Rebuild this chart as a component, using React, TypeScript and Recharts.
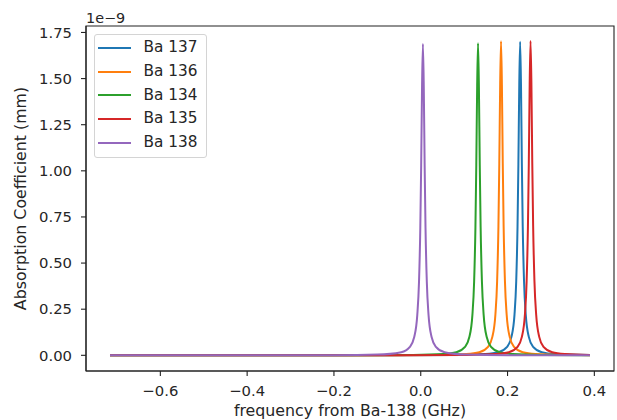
import { Legend, Line, LineChart, ReferenceArea, XAxis, YAxis } from "recharts";

const FONT = '"DejaVu Sans", sans-serif';
const INK = "#262626";

// absorption values are in units of 1e-9 mm (the axis offset text)
const freq137 = [-0.716, -0.071, 0.079, 0.149, 0.179, 0.199, 0.209, 0.216, 0.22, 0.223, 0.225, 0.227, 0.229, 0.231, 0.233, 0.235, 0.238, 0.242, 0.249, 0.259, 0.279, 0.309, 0.39];
const abs137 = [0.0001, 0.0005, 0.002, 0.007, 0.017, 0.046, 0.1, 0.219, 0.401, 0.697, 1.037, 1.465, 1.7, 1.465, 1.037, 0.697, 0.401, 0.219, 0.1, 0.046, 0.017, 0.007, 0.002];

const freq136 = [-0.716, -0.115, 0.035, 0.105, 0.135, 0.155, 0.165, 0.172, 0.176, 0.179, 0.181, 0.183, 0.185, 0.187, 0.189, 0.191, 0.194, 0.198, 0.205, 0.215, 0.235, 0.265, 0.335, 0.39];
const abs136 = [0.0001, 0.0005, 0.002, 0.007, 0.017, 0.046, 0.1, 0.22, 0.402, 0.698, 1.038, 1.467, 1.702, 1.467, 1.038, 0.698, 0.402, 0.22, 0.1, 0.046, 0.017, 0.007, 0.002, 0.001];

const freq134 = [-0.716, -0.168, -0.018, 0.052, 0.082, 0.102, 0.112, 0.119, 0.123, 0.126, 0.128, 0.13, 0.132, 0.134, 0.136, 0.138, 0.141, 0.145, 0.152, 0.162, 0.182, 0.212, 0.282, 0.39];
const abs134 = [0.0001, 0.0005, 0.002, 0.007, 0.017, 0.046, 0.099, 0.218, 0.399, 0.693, 1.032, 1.458, 1.691, 1.458, 1.032, 0.693, 0.399, 0.218, 0.099, 0.046, 0.017, 0.007, 0.002, 0.0006];

const freq135 = [-0.716, -0.047, 0.103, 0.173, 0.203, 0.223, 0.233, 0.24, 0.244, 0.247, 0.249, 0.251, 0.253, 0.255, 0.257, 0.259, 0.262, 0.266, 0.273, 0.283, 0.303, 0.333, 0.39];
const abs135 = [0.0001, 0.0005, 0.002, 0.007, 0.017, 0.046, 0.1, 0.22, 0.402, 0.699, 1.039, 1.469, 1.704, 1.469, 1.039, 0.699, 0.402, 0.22, 0.1, 0.046, 0.017, 0.007, 0.002];

const freq138 = [-0.716, -0.4, -0.2, -0.1, -0.045, -0.025, -0.015, -0.008, -0.004, -0.001, 0.001, 0.003, 0.005, 0.007, 0.009, 0.011, 0.014, 0.018, 0.025, 0.035, 0.055, 0.105, 0.2, 0.39];
const abs138 = [0.0001, 0.0003, 0.001, 0.004, 0.017, 0.046, 0.099, 0.218, 0.398, 0.692, 1.029, 1.454, 1.687, 1.454, 1.029, 0.692, 0.398, 0.218, 0.099, 0.046, 0.017, 0.004, 0.001, 0.0003];

const xTicks = [-0.6, -0.4, -0.2, 0, 0.2, 0.4];
const yTicks = [0, 0.25, 0.5, 0.75, 1.0, 1.25, 1.5, 1.75];
const xDomain = [-0.7713, 0.4453];
const yDomain = [-0.085, 1.785];

const zip = (xs: number[], ys: number[]) => xs.map((x, i) => ({ x, y: ys[i] }));

const series = [
  { name: "Ba 137", color: "#1f77b4", data: zip(freq137, abs137) },
  { name: "Ba 136", color: "#ff7f0e", data: zip(freq136, abs136) },
  { name: "Ba 134", color: "#2ca02c", data: zip(freq134, abs134) },
  { name: "Ba 135", color: "#d62728", data: zip(freq135, abs135) },
  { name: "Ba 138", color: "#9467bd", data: zip(freq138, abs138) },
];

const fmtX = (v: number) => (v < 0 ? "\u2212" : "") + Math.abs(v).toFixed(1);
const fmtY = (v: number) => v.toFixed(2);

// recharts sorts legend payload by name, so keep plotting order from series
function LegendBox() {
  return (
    <div
      style={{
        width: 113,
        height: 124,
        boxSizing: "border-box",
        border: "1px solid #d4d4d4",
        borderRadius: 3,
        background: "rgba(255,255,255,0.8)",
        padding: "1px 0 0 3px",
        fontFamily: FONT,
        fontSize: 15.3,
        color: INK,
      }}
    >
      {series.map((s) => (
        <div key={s.name} style={{ display: "flex", alignItems: "center", height: 23.75 }}>
          <div style={{ width: 33, height: 2, background: s.color }} />
          <span style={{ marginLeft: 12.6, lineHeight: "23.75px", whiteSpace: "nowrap" }}>{s.name}</span>
        </div>
      ))}
    </div>
  );
}

function YLabel({ viewBox }: any) {
  const cy = viewBox.y + viewBox.height / 2;
  return (
    <text x={26} y={cy} transform={`rotate(-90, 26, ${cy})`} textAnchor="middle" fill={INK} fontFamily={FONT} fontSize={15.8}>
      Absorption Coefficient (mm)
    </text>
  );
}

function XLabel({ viewBox }: any) {
  const cx = viewBox.x + viewBox.width / 2;
  return (
    <text x={cx} y={415.5} textAnchor="middle" fill={INK} fontFamily={FONT} fontSize={15.8}>
      frequency from Ba-138 (GHz)
    </text>
  );
}

function OffsetLabel({ viewBox }: any) {
  return (
    <text x={viewBox.x} y={viewBox.y - 3.5} fill={INK} fontFamily={FONT} fontSize={14.4}>
      1e{"\u2212"}9
    </text>
  );
}

export default function App() {
  const tick = { fill: INK, fontSize: 14.8, fontFamily: FONT };
  return (
    <div style={{ position: "absolute", left: 0, top: 0, background: "#fff" }}>
      <LineChart width={617} height={420} margin={{ top: 26, right: 3, bottom: 0, left: 0 }}>
        <XAxis
          dataKey="x"
          type="number"
          domain={xDomain}
          ticks={xTicks}
          allowDataOverflow
          tickFormatter={fmtX}
          height={49}
          tick={tick}
          tickSize={5}
          tickMargin={9}
          stroke="#222"
          strokeWidth={1.1}
          label={<XLabel />}
        />
        <YAxis
          type="number"
          domain={yDomain}
          ticks={yTicks}
          allowDataOverflow
          tickFormatter={fmtY}
          width={86}
          tick={tick}
          tickSize={5}
          tickMargin={9}
          stroke="#222"
          strokeWidth={1.1}
          label={<YLabel />}
        />
        <ReferenceArea
          x1={xDomain[0]}
          x2={xDomain[1]}
          y1={yDomain[0]}
          y2={yDomain[1]}
          ifOverflow="visible"
          fill="none"
          fillOpacity={0}
          stroke="#222"
          strokeWidth={1.1}
          label={<OffsetLabel />}
        />
        <Legend
          layout="horizontal"
          verticalAlign="middle"
          content={<LegendBox />}
          wrapperStyle={{ left: 94, top: 34, width: 113, height: 124 }}
        />
        {series.map((s) => (
          <Line
            key={s.name}
            data={s.data}
            dataKey="y"
            name={s.name}
            type="monotone"
            stroke={s.color}
            strokeWidth={2}
            dot={false}
            activeDot={false}
            legendType="line"
            isAnimationActive={false}
          />
        ))}
      </LineChart>
    </div>
  );
}
